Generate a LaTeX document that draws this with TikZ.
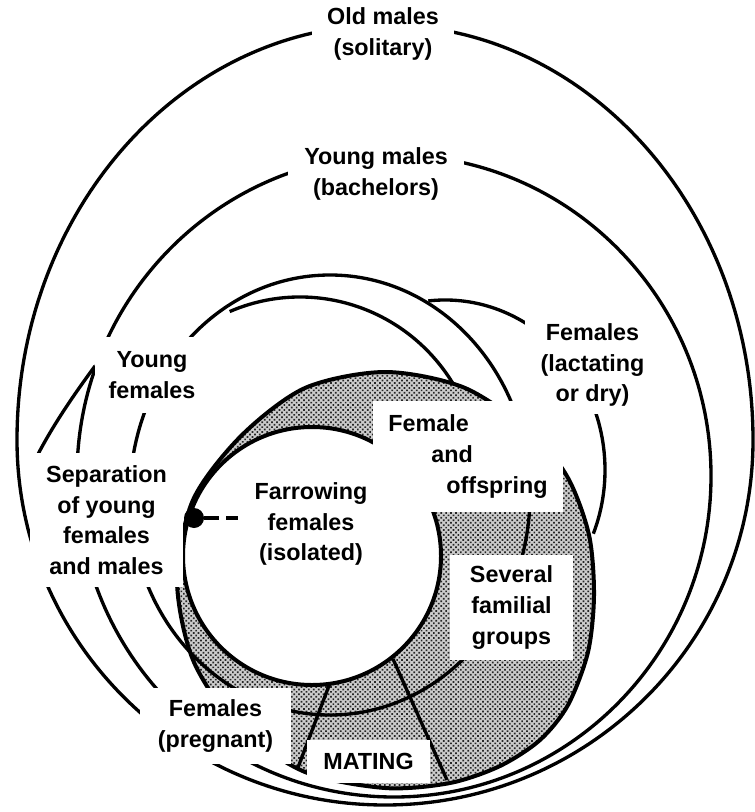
\documentclass[tikz,border=0pt]{standalone}
\usepackage{fontspec}
\setmainfont{Liberation Sans}
\usetikzlibrary{patterns.meta}

\begin{document}
\begin{tikzpicture}[x=0.75pt, y=-0.75pt,
  ring/.style={line width=2.5pt},
  rim/.style={line width=3pt},
  lbl/.style={fill=white, inner sep=0pt, align=center, font=\fontsize{17.5}{23}\selectfont\bfseries}]
\useasboundingbox (0,0) rectangle (754,812);
\path [save path=\herdpath] plot [smooth cycle] coordinates {(385,372) (464.6,387.8) (532,433) (568,478) (589,535) (594,595) (588,652) (568,705) (540,740) (500,766) (450,783) (385,788) (305,772) (238,727) (193,660) (177,580) (193,500) (241,436) (305,388)};
\fill [gray!40, use path=\herdpath];
\fill [pattern={Dots[distance=2.6pt, radius=0.9pt, angle=45]}, pattern color=black!85, use path=\herdpath];
\draw [rim, use path=\herdpath];
\draw [rim, fill=white] (312,556) circle [radius=129];
\draw [ring] (17,440) arc [start angle=180, end angle=360, x radius=368, y radius=415] arc [start angle=0, end angle=180, x radius=368, y radius=365];
\draw [ring] (394,476) ellipse [x radius=317, y radius=321];
\draw [ring] (330,495) ellipse [x radius=200, y radius=220];
\draw [ring] (300,480) ++(-113:180 and 183) arc [start angle=-113, end angle=-32, x radius=180, y radius=183];
\draw [ring] (445,470) ++(-96:160 and 170) arc [start angle=-96, end angle=22, x radius=160, y radius=170];
\draw [ring] (95,366) .. controls (70,400) and (50,430) .. (34,462);
\draw [ring] (330,683) -- (297,770);
\draw [ring] (393,659) -- (447,780);
\node [lbl, minimum width=106.5pt, minimum height=51pt] (oldm) at (383,34) {Old males\\(solitary)};
\node [lbl, minimum width=132pt, minimum height=51pt] (youngm) at (376,174) {Young males\\(bachelors)};
\node [lbl, minimum width=85.5pt, minimum height=57pt] (youngf) at (152,375) {Young\\females};
\node [lbl, minimum width=114.75pt, minimum height=100.5pt] (sep) at (106.5,520) {Separation\\of young\\females\\and males};
\node [lbl, minimum width=101.25pt, minimum height=73.5pt] (lact) at (592.5,365) {Females\\(lactating\\or dry)};
\node [lbl, minimum width=142.5pt, minimum height=83.25pt, align=left] (fo) at (468,456.5) {Female\\\hspace*{32.25pt}and\\\hspace*{43.5pt}offspring};
\node [lbl, minimum width=92.25pt, minimum height=78.75pt] (sfg) at (511.5,607.5) {Several\\familial\\groups};
\node [lbl, minimum width=113.25pt, minimum height=57pt] (preg) at (215.5,726) {Females\\(pregnant)};
\node [lbl, minimum width=92.25pt, minimum height=32.25pt] (mating) at (368.5,761.5) {MATING};
\node [lbl, fill=none] (farrow) at (311,524) {Farrowing\\females\\(isolated)};
\node [circle, fill, inner sep=0pt, minimum size=15pt] (dot) at (194,518) {};
\coordinate (dashend) at (238,518);
\draw [line width=2.6pt, dash pattern=on 11.25pt off 5.25pt] (dot) -- (dashend);
\end{tikzpicture}
\end{document}
